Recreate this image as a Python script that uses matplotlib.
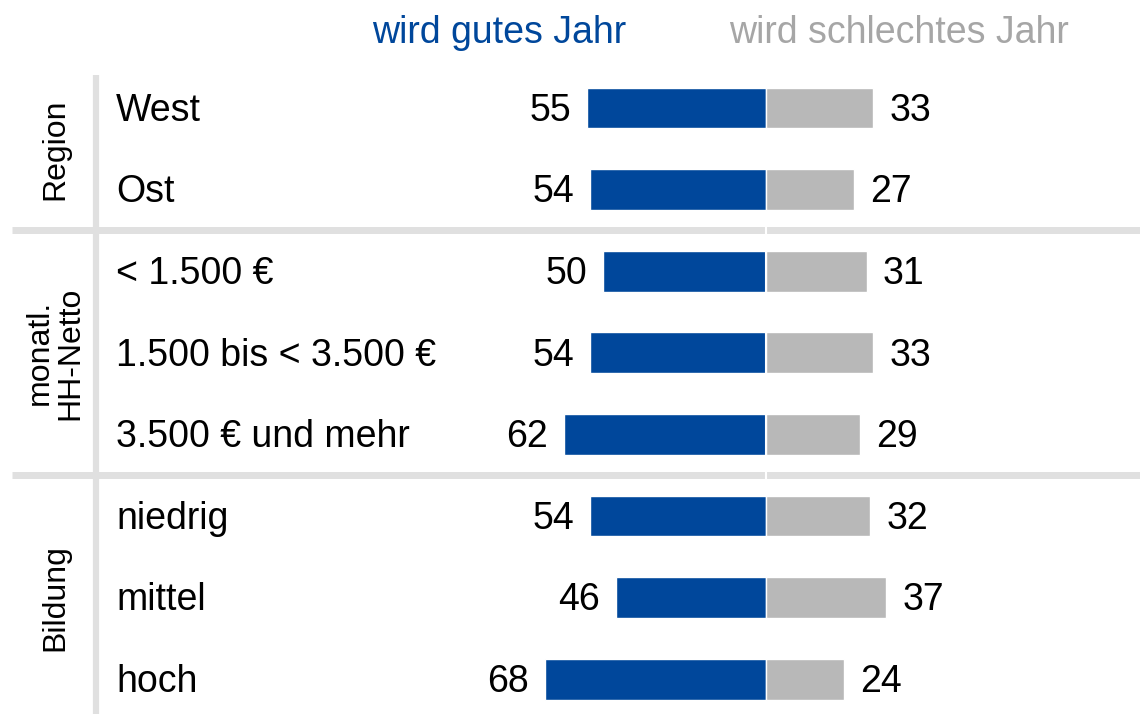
import matplotlib.pyplot as plt

plt.rcParams['font.family'] = ['Liberation Sans', 'DejaVu Sans']

# data
categories = ['West', 'Ost', '< 1.500 €', '1.500 bis < 3.500 €', '3.500 € und mehr',
              'niedrig', 'mittel', 'hoch']
gutes = [55, 54, 50, 54, 62, 54, 46, 68]
schlechtes = [33, 27, 31, 33, 29, 32, 37, 24]
groups = ['Region', 'monatl.\nHH-Netto', 'Bildung']
group_rows = [(0, 1), (2, 4), (5, 7)]

blue = '#00479b'
grey = '#b8b8b8'
sep = '#e0e0e0'

fig = plt.figure(figsize=(11.4, 7.14), dpi=100)
ax = fig.add_axes([0, 0, 1, 1])
ax.set_xlim(-235.7, 115.1)
ax.set_ylim(7.426, -1.3235)
ax.axis('off')

y = list(range(len(categories)))
ax.barh(y, [-v for v in gutes], height=0.5, color=blue, edgecolor='white', linewidth=1)
ax.barh(y, schlechtes, height=0.5, color=grey, edgecolor='white', linewidth=1)

dy = 0.035  # small nudge so text sits centred on bars
for i, (g, s) in enumerate(zip(gutes, schlechtes)):
    ax.text(-g - 5, i + dy, str(g), ha='right', va='center', fontsize=27)
    ax.text(s + 5, i + dy, str(s), ha='left', va='center', fontsize=27)
    ax.text(-200, i + dy, categories[i], ha='left', va='center', fontsize=27)

# separators
for yy in [1.5, 4.5]:
    ax.plot([-232, 116], [yy, yy], color=sep, lw=5, solid_capstyle='butt', zorder=0)
ax.plot([-206.2, -206.2], [-0.405, 7.5], color=sep, lw=4.5, solid_capstyle='butt', zorder=0)
ax.plot([0, 0], [1.3, 4.7], color='white', lw=1.5, zorder=1)

for name, (a, b) in zip(groups, group_rows):
    ax.text(-218.8, (a + b) / 2, name, rotation=90, ha='center', va='center',
            fontsize=23, linespacing=1.0)

ax.text(-82, -0.92, 'wird gutes Jahr', color=blue, ha='center', va='center', fontsize=27)
ax.text(41, -0.92, 'wird schlechtes Jahr', color='#a6a6a6', ha='center', va='center', fontsize=27)

fig.savefig('out.png', dpi=100)
